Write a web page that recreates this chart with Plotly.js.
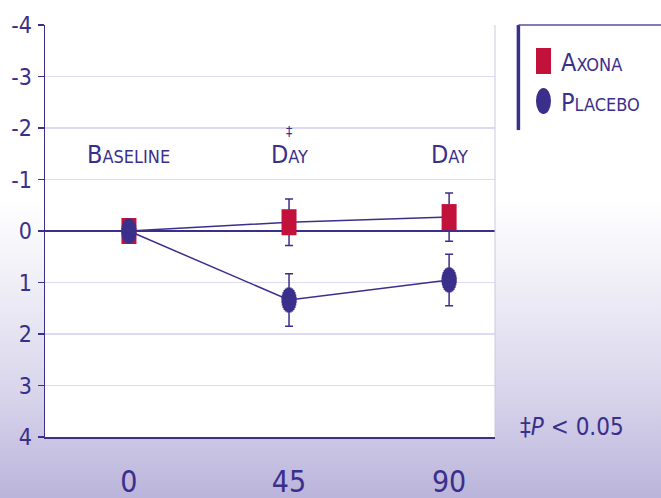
<!DOCTYPE html>
<html>
<head>
<meta charset="utf-8">
<script src="https://cdn.plot.ly/plotly-3.0.1.min.js"></script>
<style>
  html, body { margin: 0; padding: 0; }
  #chart {
    width: 661px; height: 498px;
    background: linear-gradient(to bottom, #ffffff 0px, #ffffff 200px, #eeedf6 290px, #d9d6ec 390px, #bbb4db 498px);
  }
</style>
</head>
<body>
<div id="chart"></div>
<script>
// ---- data ----
const categories = [0, 45, 90];
const axonaMean = [0, -0.17, -0.27];
const axonaErr = [0, 0.45, 0.47];
const placeboMean = [0, 1.34, 0.95];
const placeboErr = [0, 0.51, 0.50];
const seriesNames = ['Axona', 'Placebo'];
const yTickVals = [-4, -3, -2, -1, 0, 1, 2, 3, 4];
const yTickText = ['-4', '-3', '-2', '-1', '0', '1', '2', '3', '4'];
const xTickText = ['0', '45', '90'];
const timeLabels = ['Baseline', 'Day', 'Day'];
const sigMarks = ['', '‡', ''];
const footnote = '‡<i>P</i> &lt; 0.05';

// ---- style ----
const PURPLE = '#3b2f8c';
const RED = '#c2113a';
const FONT = "'Liberation Sans Narrow', 'DejaVu Sans Condensed', 'Arial Narrow', sans-serif";
// layers (pixel length, pixel width) that together build a vertical ellipse marker
const ELLIPSE_LAYERS = [[25, 5], [23, 8.5], [20, 11], [16, 13], [11, 14.5], [6, 15]];

function smallCaps(s, small) {
  return s.charAt(0).toUpperCase() +
    '<span style="font-size:' + small + 'px">' + s.slice(1).toUpperCase() + '</span>';
}

const lineTrace = (y) => ({
  x: categories, y: y, mode: 'lines', showlegend: false, hoverinfo: 'skip',
  line: { color: PURPLE, width: 1.5 }
});

const errStyle = (arr) => ({
  type: 'data', array: arr, visible: true, color: PURPLE, thickness: 1.5, width: 4
});

const traces = [
  lineTrace(axonaMean),
  lineTrace(placeboMean),
  {
    x: categories, y: axonaMean, name: seriesNames[0], mode: 'markers', showlegend: false,
    error_y: errStyle(axonaErr),
    marker: { symbol: 'line-ns', size: 18.6, color: RED, line: { color: RED, width: 15 } }
  }
];
ELLIPSE_LAYERS.forEach((ly, k) => {
  const t = {
    x: categories, y: placeboMean, name: seriesNames[1], mode: 'markers', showlegend: false,
    hoverinfo: k === 0 ? 'x+y+name' : 'skip',
    marker: { symbol: 'line-ns', size: ly[0] / 1.4, color: PURPLE, line: { color: PURPLE, width: ly[1] } }
  };
  if (k === 0) t.error_y = errStyle(placeboErr);
  traces.push(t);
});

const annotations = [];
categories.forEach((c, i) => {
  annotations.push({
    x: c, y: -1.48, xref: 'x', yref: 'y', showarrow: false,
    text: smallCaps(timeLabels[i], 18),
    font: { family: FONT, size: 25, color: PURPLE }
  });
  if (sigMarks[i]) {
    annotations.push({
      x: c, y: -1.95, xref: 'x', yref: 'y', showarrow: false,
      text: sigMarks[i], font: { family: FONT, size: 14, color: PURPLE }
    });
  }
});
// legend labels
annotations.push({
  x: 1.142, y: 0.908, xref: 'paper', yref: 'paper', xanchor: 'left', yanchor: 'middle', showarrow: false,
  text: smallCaps(seriesNames[0], 18), font: { family: FONT, size: 25, color: PURPLE }
});
annotations.push({
  x: 1.142, y: 0.811, xref: 'paper', yref: 'paper', xanchor: 'left', yanchor: 'middle', showarrow: false,
  text: smallCaps(seriesNames[1], 18), font: { family: FONT, size: 25, color: PURPLE }
});
// footnote
annotations.push({
  x: 1.052, y: 0.024, xref: 'paper', yref: 'paper', xanchor: 'left', yanchor: 'middle', showarrow: false,
  text: footnote, font: { family: FONT, size: 24, color: PURPLE }
});

const shapes = [
  // right plot border
  { type: 'line', xref: 'paper', yref: 'paper', x0: 1, x1: 1, y0: 0, y1: 1,
    line: { color: '#cbc8df', width: 1 } },
  // legend frame
  { type: 'line', xref: 'paper', yref: 'paper', x0: 1.052, x1: 1.052, y0: 0.745, y1: 1.0,
    line: { color: PURPLE, width: 3.5 } },
  { type: 'line', xref: 'paper', yref: 'paper', x0: 1.052, x1: 1.37, y0: 1.0, y1: 1.0,
    line: { color: '#5a4f9c', width: 1.5 } },
  // legend symbols
  { type: 'rect', xref: 'paper', yref: 'paper', x0: 1.0911, x1: 1.1244, y0: 0.8811, y1: 0.9442,
    fillcolor: RED, line: { width: 0 } },
  { type: 'circle', xref: 'paper', yref: 'paper', x0: 1.0911, x1: 1.1244, y0: 0.784, y1: 0.8471,
    fillcolor: PURPLE, line: { width: 0 } }
];

const layout = {
  width: 661, height: 498,
  margin: { l: 45, r: 166, t: 25, b: 61, pad: 0 },
  paper_bgcolor: 'rgba(0,0,0,0)',
  plot_bgcolor: '#ffffff',
  showlegend: false,
  font: { family: FONT, color: PURPLE },
  xaxis: {
    range: [-23.6, 102.9], showgrid: false, zeroline: false,
    showline: true, linecolor: PURPLE, linewidth: 1.5,
    tickmode: 'array', tickvals: categories, ticktext: xTickText,
    ticks: '', ticklabelstandoff: 17,
    tickfont: { family: FONT, size: 30, color: PURPLE },
    automargin: false, fixedrange: true
  },
  yaxis: {
    range: [4, -4], autorange: false,
    tickmode: 'array', tickvals: yTickVals, ticktext: yTickText,
    showgrid: true, gridcolor: '#dcdaf0', gridwidth: 1.5,
    zeroline: true, zerolinecolor: PURPLE, zerolinewidth: 2,
    showline: true, linecolor: PURPLE, linewidth: 1.5,
    ticks: 'outside', ticklen: 6, tickwidth: 1.5, tickcolor: PURPLE,
    ticklabelstandoff: 1,
    tickfont: { family: FONT, size: 23, color: PURPLE },
    automargin: false, fixedrange: true
  },
  annotations: annotations,
  shapes: shapes
};

Plotly.newPlot('chart', traces, layout, { displayModeBar: false, staticPlot: true });
</script>
</body>
</html>
